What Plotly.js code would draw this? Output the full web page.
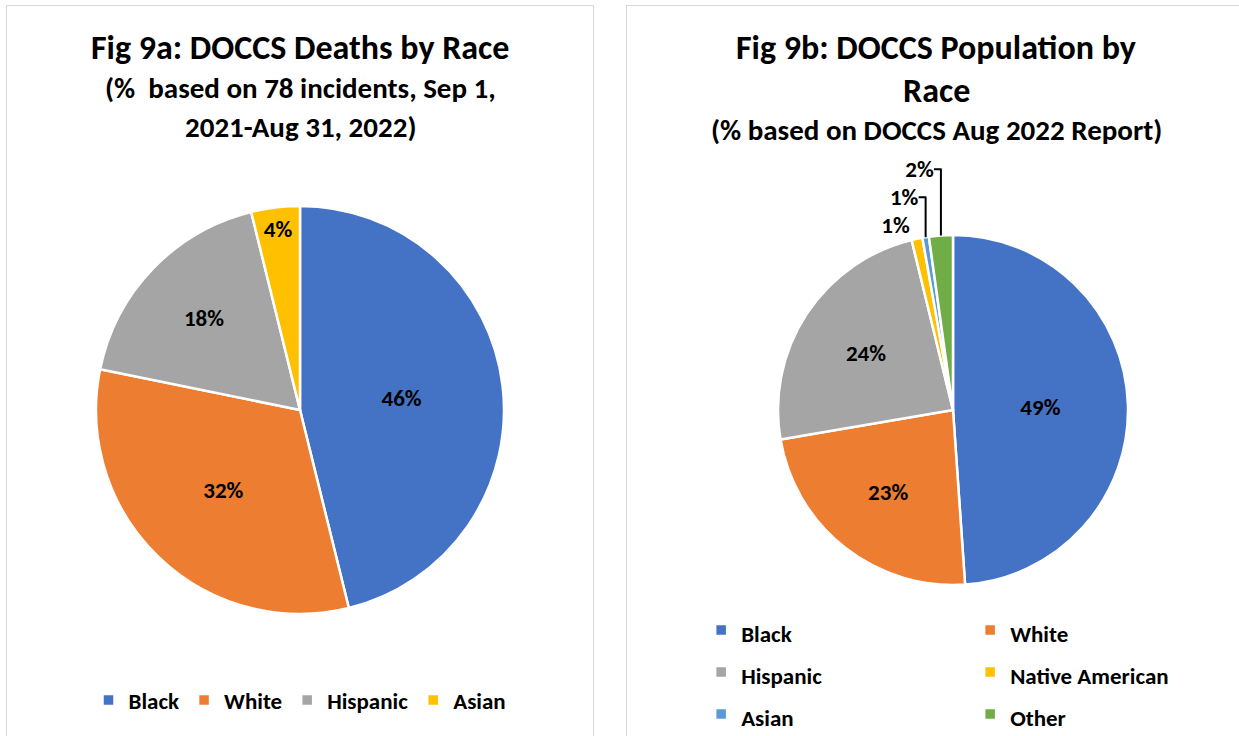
<!DOCTYPE html>
<html>
<head>
<meta charset="utf-8">
<script src="https://cdn.plot.ly/plotly-3.0.1.min.js"></script>
<style>
  html, body { margin: 0; padding: 0; width: 1239px; height: 736px; overflow: hidden; background: #ffffff; }
  .panel { position: absolute; border: 1px solid #d9d9d9; background: #ffffff; }
  #left { left: 6px; top: 5px; width: 586px; height: 758px; }
  #right { left: 626px; top: 5px; width: 618px; height: 758px; }
</style>
</head>
<body>
<div id="left" class="panel"></div>
<div id="right" class="panel"></div>
<script>
// ---- Data ----
const deathLabels = ['Black', 'White', 'Hispanic', 'Asian'];
const deathValues = [36, 25, 14, 3]; // 78 incidents
const deathColors = ['#4472C4', '#ED7D31', '#A5A5A5', '#FFC000'];

const popLabels = ['Black', 'White', 'Hispanic', 'Native American', 'Asian', 'Other'];
const popValues = [48.9, 23.4, 23.9, 1.0, 0.6, 2.2];
const popColors = ['#4472C4', '#ED7D31', '#A5A5A5', '#FFC000', '#5B9BD5', '#70AD47'];
const popTextPos = ['inside', 'inside', 'inside', 'outside', 'outside', 'outside'];

const titleA = 'Fig 9a: DOCCS Deaths by Race';
const subA1 = '(%\u00a0 based on 78 incidents, Sep 1,';
const subA2 = '2021-Aug 31, 2022)';
const titleB1 = 'Fig 9b: DOCCS Population by';
const titleB2 = 'Race';
const subB = '(% based on DOCCS Aug 2022 Report)';

const FONT = 'Carlito, Calibri, Lato, sans-serif';
const H = 758;
function py(imgY) { return 1 - (imgY - 6) / H; }
function legLabel(l) { return '<span style="font-size:23px">' + l + '</span>'; }

function ann(text, y, size) {
  return { text: '<b>' + text + '</b>', xref: 'paper', yref: 'paper', x: 0.5, y: py(y),
           xanchor: 'center', yanchor: 'middle', showarrow: false,
           font: { family: FONT, size: size, color: '#000000' } };
}

// ---- Left chart ----
const W1 = 586;
const leftTrace = {
  type: 'pie',
  labels: deathLabels.map(legLabel),
  values: deathValues,
  sort: false,
  direction: 'clockwise',
  rotation: 0,
  marker: { colors: deathColors, line: { color: '#ffffff', width: 2.5 } },
  texttemplate: '<b>%{percent:.0%}</b>',
  textposition: 'inside',
  insidetextorientation: 'horizontal',
  textfont: { family: FONT, size: 23, color: '#000000' },
  hoverinfo: 'label+percent',
  domain: { x: [(293 - 204) / W1, (293 + 204) / W1], y: [py(410) - 204 / H, py(410) + 204 / H] }
};
const leftLayout = {
  width: W1, height: H,
  margin: { l: 0, r: 0, t: 0, b: 0 },
  paper_bgcolor: '#ffffff',
  font: { family: FONT, color: '#000000' },
  showlegend: true,
  legend: { orientation: 'h', x: 0.5, xanchor: 'center', y: py(700), yanchor: 'middle',
            font: { family: FONT, size: 23, color: '#000000', weight: 'bold' } },
  annotations: [ann(titleA, 47, 34), ann(subA1, 88, 29), ann(subA2, 127, 29)]
};
Plotly.newPlot('left', [leftTrace], leftLayout, { displayModeBar: false, staticPlot: true });

// ---- Right chart ----
const W2 = 618;
const rightTrace = {
  type: 'pie',
  labels: popLabels.map(legLabel),
  values: popValues,
  sort: false,
  direction: 'clockwise',
  rotation: 0,
  marker: { colors: popColors, line: { color: '#ffffff', width: 2.5 } },
  texttemplate: '<b>%{percent:.0%}</b>',
  textposition: popTextPos,
  insidetextorientation: 'horizontal',
  textfont: { family: FONT, size: 23, color: '#000000' },
  hoverinfo: 'label+percent',
  domain: { x: [(326 - 175) / W2, (326 + 175) / W2], y: [py(410) - 175 / H, py(410) + 175 / H] }
};
const rightLayout = {
  width: W2, height: H,
  margin: { l: 0, r: 0, t: 0, b: 0 },
  paper_bgcolor: '#ffffff',
  font: { family: FONT, color: '#000000' },
  showlegend: true,
  legend: { orientation: 'h', x: 0.12, xanchor: 'left', y: py(604), yanchor: 'top',
            entrywidth: 224,
            font: { family: FONT, size: 30, color: '#000000', weight: 'bold' } },
  annotations: [ann(titleB1, 47, 34), ann(titleB2, 90, 34), ann(subB, 130, 29)]
};
Plotly.newPlot('right', [rightTrace], rightLayout, { displayModeBar: false, staticPlot: true });
</script>
</body>
</html>
